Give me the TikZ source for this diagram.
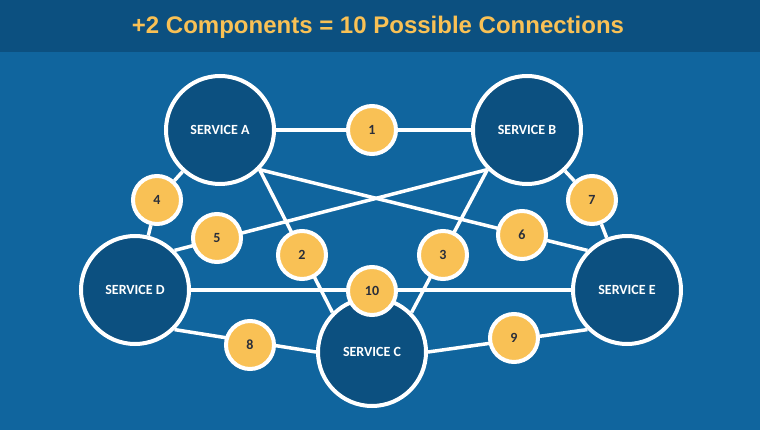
\documentclass[tikz,border=0pt]{standalone}
\usepackage{fontspec}
\setmainfont{Liberation Sans}
\newfontfamily\svcfont{Carlito}
\definecolor{bgblue}{HTML}{10659E}
\definecolor{darkblue}{HTML}{0C5080}
\definecolor{gold}{HTML}{F9C155}
\definecolor{numtxt}{HTML}{2A2E3A}
\pgfdeclarelayer{bglayer}
\pgfdeclarelayer{linelayer}
\pgfsetlayers{bglayer,linelayer,main}
\begin{document}
\begin{tikzpicture}[x=1pt,y=-1pt,
  svc/.style={circle,draw=white,line width=4pt,fill=darkblue,minimum size=108pt,inner sep=0pt,
    text=white,font=\svcfont\bfseries\fontsize{14}{14}\selectfont},
  num/.style={circle,draw=white,line width=4pt,fill=gold,minimum size=48pt,inner sep=0pt,
    text=numtxt,font=\svcfont\bfseries\fontsize{14}{14}\selectfont},
  conn/.style={white,line width=3.5pt}]
\useasboundingbox (0,0) rectangle (760,430);
\begin{pgfonlayer}{bglayer}
\fill[bgblue] (0,0) rectangle (760,430);
\fill[darkblue] (0,0) rectangle (760,52);
\end{pgfonlayer}
\node (title) at (378,27) {\textcolor{gold}{\bfseries\fontsize{24}{24}\selectfont +2 Components = 10 Possible Connections}};
\node[svc] (A) at (220,130) {SERVICE A};
\node[svc] (B) at (527,130) {SERVICE B};
\node[svc] (C) at (372,352) {SERVICE C};
\node[svc] (D) at (135,290) {SERVICE D};
\node[svc] (E) at (627,290) {SERVICE E};
\node[num] (n1) at (372,130) {1};
\node[num] (n2) at (302,255) {2};
\node[num] (n3) at (443,255) {3};
\node[num] (n4) at (157,200) {4};
\node[num] (n5) at (217,238) {5};
\node[num] (n6) at (522,235) {6};
\node[num] (n7) at (592,200) {7};
\node[num] (n8) at (250,345) {8};
\node[num] (n9) at (514,338) {9};
\node[num] (n10) at (372,291) {10};
\begin{pgfonlayer}{linelayer}
\draw[conn] (A) -- (B);
\draw[conn] (A) -- (n4) -- (D);
\draw[conn] (B.225) -- (D.45);
\draw[conn] (A.-45) -- (C.135);
\draw[conn] (B.225) -- (C.45);
\draw[conn] (A.-45) -- (E.135);
\draw[conn] (B) -- (n7) -- (E);
\draw[conn] (D.-45) -- (C.180);
\draw[conn] (C.0) -- (E.225);
\draw[conn] (D) -- (E);
\end{pgfonlayer}
\end{tikzpicture}
\end{document}
